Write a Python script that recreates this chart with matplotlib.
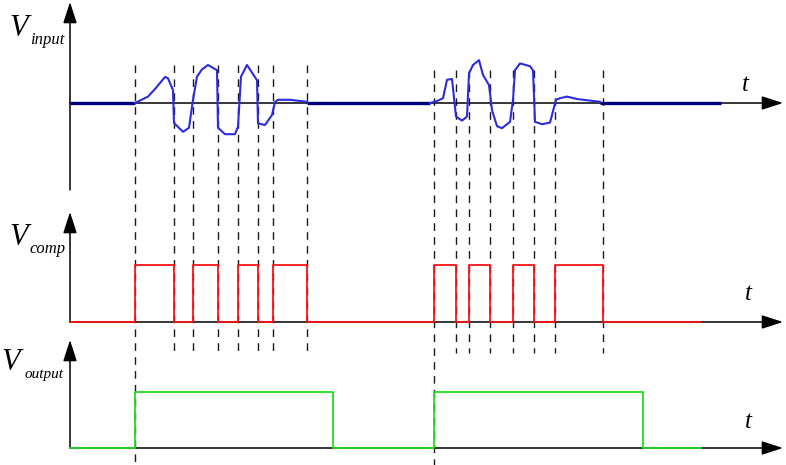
import numpy as np
import matplotlib
matplotlib.use("Agg")
import matplotlib.pyplot as plt

# ---------------- data (time in arbitrary units, voltages in arbitrary units) -------------
# input signal bursts
burst1_t = [65, 78, 85, 95, 98, 103, 104, 113, 119, 123, 127, 132, 138, 147, 148, 155,
            165, 168, 171, 177, 187, 188, 195, 202, 205, 208, 220, 237]
burst1_v = [0.0, 0.16, 0.35, 0.65, 0.62, 0.32, -0.50, -0.72, -0.62, 0.08, 0.66, 0.84, 0.95,
            0.82, -0.62, -0.78, -0.78, -0.59, 0.66, 0.95, 0.57, -0.51, -0.55, -0.30, 0.03,
            0.08, 0.08, 0.03]
burst2_t = [360, 367, 373, 377, 382, 386, 392, 397, 399, 403, 409, 413, 419, 422, 427, 432,
            440, 443, 445, 450, 460, 463, 465, 472, 480, 486, 490, 497, 507, 530]
burst2_v = [0.0, 0.05, 0.12, 0.58, 0.60, -0.34, -0.44, -0.34, 0.74, 0.95, 1.07, 0.70, 0.45,
            -0.18, -0.58, -0.63, -0.47, 0.08, 0.82, 0.99, 0.92, 0.82, -0.47, -0.53, -0.49,
            0.08, 0.12, 0.16, 0.10, 0.03]
t_end_input = 651

# comparator switching instants (also the dashed guide lines)
comp_rise = [65, 123, 168, 203, 364, 399, 443, 485]
comp_fall = [104, 148, 188, 237, 386, 420, 464, 533]
t_end_comp = 630

# output switching instants
out_rise = [65, 364]
out_fall = [263, 573]
t_end_out = 631

# ---------------- helpers -------------
W, H = 786, 465
fig = plt.figure(figsize=(W / 100, H / 100), dpi=100)

x0_px, x1_px = 70, 783
TMAX = x1_px - x0_px

# dashed guide-line overlay (drawn beneath the signals)
ov_ax = fig.add_axes([0, 0, 1, 1])
ov_ax.set_xlim(-x0_px, W - x0_px)
ov_ax.set_ylim(H, 0)
ov_ax.axis("off")
ov_ax.set_zorder(0)


def add_panel(top_px, bottom_px, base_px, scale_px):
    ax = fig.add_axes([x0_px / W, 1 - bottom_px / H, (x1_px - x0_px) / W,
                       (bottom_px - top_px) / H])
    ax.set_zorder(1)
    ax.set_xlim(0, TMAX)
    ax.set_ylim((base_px - bottom_px) / scale_px, (base_px - top_px) / scale_px)
    ax.axis("off")
    arrow = dict(arrowstyle="-|>,head_length=1.3,head_width=0.42", color="black",
                 lw=1.1, shrinkA=0, shrinkB=0, mutation_scale=10)
    ax.annotate("", xy=(0, 1), xytext=(0, 0), xycoords="axes fraction",
                textcoords="axes fraction", arrowprops=arrow, zorder=2)
    tr = ax.get_yaxis_transform()
    ax.annotate("", xy=(1, 0), xytext=(0, 0), xycoords=tr, textcoords=tr,
                arrowprops=arrow, zorder=2)
    return ax


def steps(rises, falls, t_end):
    t = [0]
    v = [0]
    for r, f in zip(rises, falls):
        t += [r, r, f, f]
        v += [0, 1, 1, 0]
    t.append(t_end)
    v.append(0)
    return t, v


# ---------------- panels -------------
ax1 = add_panel(2, 190, 103, 40)
ax2 = add_panel(212, 322, 322, 57)
ax3 = add_panel(340, 448, 448, 56)

# input
quiet = [(0, burst1_t[0]), (burst1_t[-1], burst2_t[0]), (burst2_t[-1], t_end_input)]
for a, b in quiet:
    ax1.plot([a, b], [0, 0], color="#00007a", lw=2.4, solid_capstyle="butt", zorder=3)
for bt, bv in [(burst1_t, burst1_v), (burst2_t, burst2_v)]:
    ax1.plot(bt, bv, color="#2b2be0", lw=1.5, zorder=4)

# comparator
ct, cv = steps(comp_rise, comp_fall, t_end_comp)
ax2.plot(ct, cv, color="#ff1010", lw=1.3, zorder=4, clip_on=False)

# output
ot, ov = steps(out_rise, out_fall, t_end_out)
ax3.plot(ot, ov, color="#22dd22", lw=1.3, zorder=4, clip_on=False)

# dashed guide lines at every comparator edge
edges = sorted(set(comp_rise + comp_fall))
for t in edges:
    long_line = t in out_rise
    top = 65 if t < 300 else 70
    bottom = H if long_line else 353
    ov_ax.plot([t, t], [top, bottom], color="#1a1a1a", lw=1.0,
               linestyle=(0, (5.5, 4.5)), zorder=1)

# ---------------- labels -------------
serif = "Liberation Serif"


def vlabel(xv, yb, sub, xs, ys, subsize=12):
    fig.text(xv / W, 1 - yb / H, "V", fontsize=22, family=serif, style="italic",
             ha="left", va="baseline")
    fig.text(xs / W, 1 - ys / H, sub, fontsize=subsize, family=serif, style="italic",
             ha="left", va="baseline")


vlabel(9, 36, "input", 30, 44)
vlabel(9, 245, "comp", 29, 253)
vlabel(1, 370, "output", 25, 378, subsize=11)

for xt, yt in [(745, 91), (748, 300), (748, 428)]:
    fig.text(xt / W, 1 - yt / H, "t", fontsize=18, family=serif, style="italic",
             ha="center", va="baseline")

fig.savefig("out.png", dpi=100)
